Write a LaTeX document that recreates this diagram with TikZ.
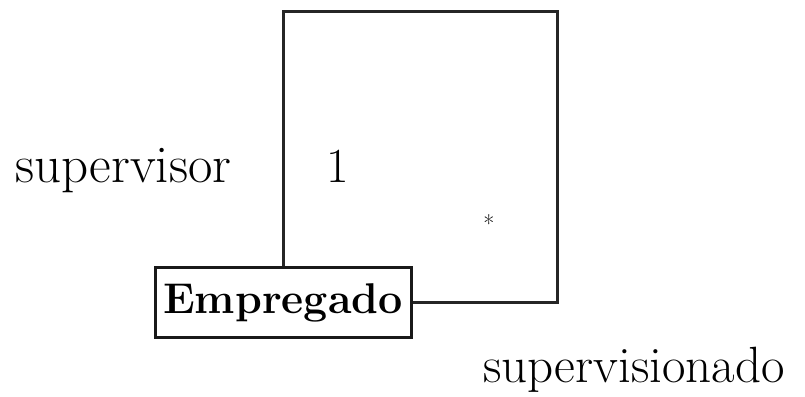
\documentclass[tikz,border=0pt]{standalone}
\begin{document}
\begin{tikzpicture}[x=1pt,y=1pt,
  line/.style={line width=3pt, draw=black!85},
  lbl/.style={inner sep=0pt, anchor=base west, font=\fontsize{49}{58}\selectfont},
  cls/.style={draw=black!90, line width=3pt, inner sep=0pt, minimum width=256pt, minimum height=70pt, font=\fontsize{43}{50}\selectfont\bfseries}]
\useasboundingbox (0,0) rectangle (805,396);
\node[cls] (emp) at (283,93) {Empregado};
\coordinate (tl) at (284,384);
\coordinate (tr) at (557,384);
\draw[line] (emp.north) |- (tr) |- (emp.east);
\node[lbl, font=\fontsize{53}{62}\selectfont] (sup) at (15,213) {supervisor};
\node[lbl] (one) at (326,213) {1};
\node[inner sep=0pt, font=\fontsize{24}{26}\selectfont] (star) at (489,172) {*};
\node[lbl, font=\fontsize{51}{60}\selectfont] (supd) at (483,14) {supervisionado};
\end{tikzpicture}
\end{document}
